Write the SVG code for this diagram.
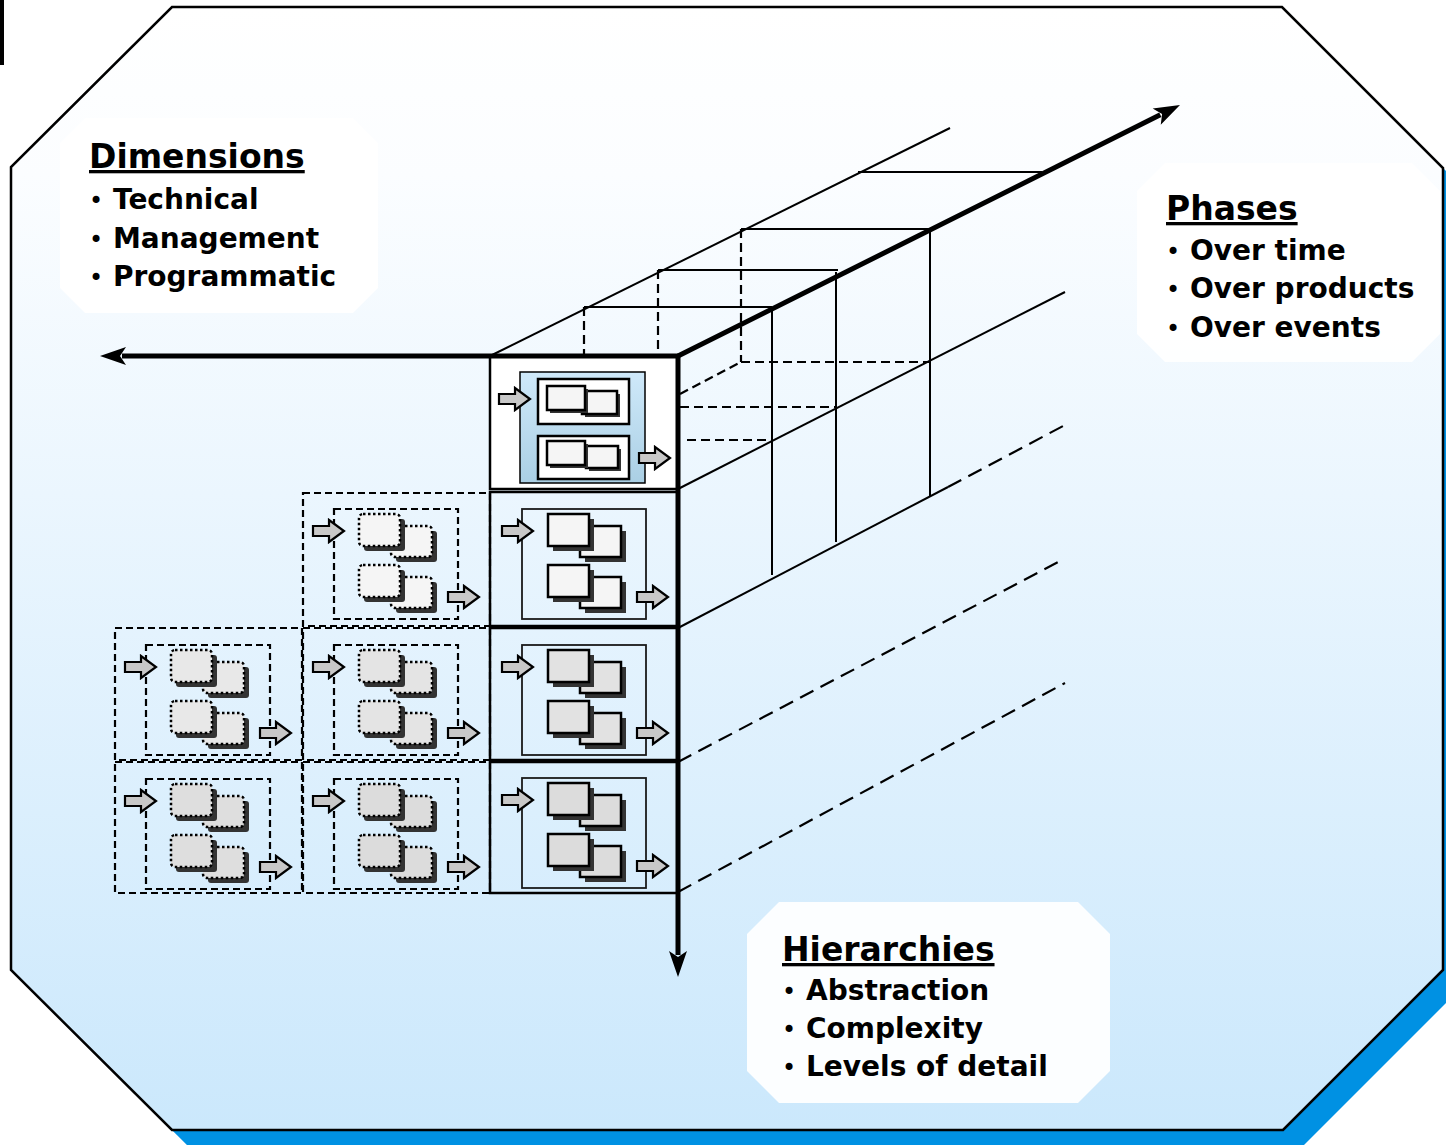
<svg xmlns="http://www.w3.org/2000/svg" xmlns:xlink="http://www.w3.org/1999/xlink" width="1446" height="1145" viewBox="0 0 1446 1145">
<style>
.txt{font-family:"DejaVu Sans","Verdana",sans-serif;font-weight:bold;fill:#000}
.ttl{font-size:33px;text-decoration:underline}
.itm{font-size:28px}
.bul{font-weight:normal;font-size:24px}
.blk{fill:#C8C8C8;stroke:#000;stroke-width:2.2;stroke-linejoin:miter}
.sh{fill:#333}
.sr{stroke:#000;stroke-width:2.5}
.dr{stroke:#000;stroke-width:2.5;stroke-dasharray:2.5 2.5}
.box{fill:none;stroke:#000;stroke-width:2.5}
.dbox{fill:none;stroke:#000;stroke-width:2.2;stroke-dasharray:7 4}
.inner{fill:none;stroke:#1a1a1a;stroke-width:1.8}
.dinner{fill:none;stroke:#000;stroke-width:2.2;stroke-dasharray:7 4}
.thin{fill:none;stroke:#000;stroke-width:2}
.dash{fill:none;stroke:#000;stroke-width:2.2;stroke-dasharray:15 8}
.sdash{fill:none;stroke:#000;stroke-width:2.2;stroke-dasharray:9 5}
.axis{fill:none;stroke:#000;stroke-width:5}
.tbox{fill:#fff;fill-opacity:0.93}
</style>
<defs>
<linearGradient id="bg" x1="0" y1="0" x2="0" y2="1">
<stop offset="0" stop-color="#FFFFFF"/>
<stop offset="0.15" stop-color="#FBFDFF"/>
<stop offset="1" stop-color="#CBE8FC"/>
</linearGradient>
<linearGradient id="panel" x1="0" y1="0" x2="0" y2="1">
<stop offset="0" stop-color="#CFE9FA"/>
<stop offset="1" stop-color="#AACFE4"/>
</linearGradient>
<marker id="ah" markerUnits="userSpaceOnUse" markerWidth="40" markerHeight="30" viewBox="-10 -15 40 30" refX="0" refY="0" orient="auto" overflow="visible">
<path d="M22,0 L-4,-9 L2,0 L-4,9 Z" fill="#000"/>
</marker>
<path id="blkArrow" class="blk" d="M0,-5 H16 V-11 L31,0 L16,11 V5 H0 Z"/>
<g id="pairS">
<rect class="sh" x="37" y="17" width="41" height="31"/>
<rect class="sr" x="32" y="12" width="41" height="31"/>
<rect class="sh" x="5" y="5" width="41" height="32"/>
<rect class="sr" x="0" y="0" width="41" height="32"/>
</g>
<g id="pairD">
<rect class="sh" x="37" y="17" width="41" height="31" rx="3"/>
<rect class="dr" x="32" y="12" width="41" height="31" rx="4"/>
<rect class="sh" x="5" y="5" width="41" height="32" rx="3"/>
<rect class="dr" x="0" y="0" width="41" height="32" rx="4"/>
</g>
<g id="cellS">
<rect class="inner" x="32" y="17" width="124" height="110"/>
<use href="#blkArrow" x="12" y="39"/>
<use href="#blkArrow" x="147" y="105"/>
<use href="#pairS" x="58" y="22"/>
<use href="#pairS" x="58" y="73"/>
</g>
<g id="cellD">
<rect class="dinner" x="32" y="17" width="124" height="110"/>
<use href="#blkArrow" x="11" y="39"/>
<use href="#blkArrow" x="146" y="105"/>
<use href="#pairD" x="57" y="22"/>
<use href="#pairD" x="57" y="73"/>
</g>
</defs>

<g id="background">
<rect x="0" y="0" width="4" height="65" fill="#000"/>
<polygon points="190,25 1300,25 1461,186 1461,988 1301,1148 190,1148 29,988 29,185" fill="#0091E3"/>
<polygon points="172,7 1282,7 1443,168 1443,970 1283,1130 172,1130 11,970 11,167" fill="url(#bg)" stroke="#000" stroke-width="2.5"/>
</g>

<g id="label-dimensions">
<polygon class="tbox" points="85,118 353,118 378,143 378,288 353,313 85,313 60,288 60,143"/>
<text class="txt ttl" x="89" y="168">Dimensions</text>
<text class="txt itm" y="209"><tspan class="bul" x="89">•</tspan><tspan x="113">Technical</tspan></text>
<text class="txt itm" y="248"><tspan class="bul" x="89">•</tspan><tspan x="113">Management</tspan></text>
<text class="txt itm" y="286"><tspan class="bul" x="89">•</tspan><tspan x="113">Programmatic</tspan></text>
</g>

<g id="label-phases">
<polygon class="tbox" points="1165,163 1412,163 1440,191 1440,334 1412,362 1165,362 1137,334 1137,191"/>
<text class="txt ttl" x="1166" y="220">Phases</text>
<text class="txt itm" y="260"><tspan class="bul" x="1166">•</tspan><tspan x="1190">Over time</tspan></text>
<text class="txt itm" y="298"><tspan class="bul" x="1166">•</tspan><tspan x="1190">Over products</tspan></text>
<text class="txt itm" y="337"><tspan class="bul" x="1166">•</tspan><tspan x="1190">Over events</tspan></text>
</g>

<g id="label-hierarchies">
<polygon class="tbox" points="779,902 1078,902 1110,934 1110,1071 1078,1103 779,1103 747,1071 747,934"/>
<text class="txt ttl" x="782" y="961">Hierarchies</text>
<text class="txt itm" y="1000"><tspan class="bul" x="782">•</tspan><tspan x="806">Abstraction</tspan></text>
<text class="txt itm" y="1038"><tspan class="bul" x="782">•</tspan><tspan x="806">Complexity</tspan></text>
<text class="txt itm" y="1076"><tspan class="bul" x="782">•</tspan><tspan x="806">Levels of detail</tspan></text>
</g>

<g id="dashed-cells">
<g id="cell-r2-c2">
<rect class="dbox" x="303" y="493" width="187" height="133"/>
<use href="#cellD" x="302" y="492" fill="#F5F5F5"/>
</g>
<g id="cell-r3-c1">
<rect class="dbox" x="115" y="628" width="187" height="132"/>
<use href="#cellD" x="114" y="628" fill="#E8E8E8"/>
</g>
<g id="cell-r3-c2">
<rect class="dbox" x="303" y="628" width="187" height="132"/>
<use href="#cellD" x="302" y="628" fill="#E4E4E4"/>
</g>
<g id="cell-r4-c1">
<rect class="dbox" x="115" y="762" width="187" height="131"/>
<use href="#cellD" x="114" y="762" fill="#DEDEDE"/>
</g>
<g id="cell-r4-c2">
<rect class="dbox" x="303" y="762" width="187" height="131"/>
<use href="#cellD" x="302" y="762" fill="#DCDCDC"/>
</g>
</g>

<g id="top-cell">
<rect x="490" y="356" width="188" height="133" fill="#fff" stroke="#000" stroke-width="2.5"/>
<rect x="520" y="372" width="125" height="111" fill="url(#panel)" stroke="#000" stroke-width="1.5"/>
<rect x="538" y="379" width="91" height="45" fill="#fff" stroke="#000" stroke-width="2.5"/>
<rect x="538" y="436" width="91" height="43" fill="#fff" stroke="#000" stroke-width="2.5"/>
<g fill="#F5F5F5">
<rect class="sh" x="585" y="394" width="35" height="23"/>
<rect class="sr" x="582" y="391" width="35" height="23"/>
<rect class="sh" x="550" y="389" width="38" height="24"/>
<rect class="sr" x="547" y="386" width="38" height="24"/>
<rect class="sh" x="589" y="449" width="32" height="22"/>
<rect class="sr" x="586" y="446" width="32" height="22"/>
<rect class="sh" x="550" y="444" width="38" height="24"/>
<rect class="sr" x="547" y="441" width="38" height="24"/>
</g>
<use href="#blkArrow" x="499" y="399"/>
<use href="#blkArrow" x="639" y="458"/>
</g>

<g id="cell-r2">
<rect class="box" x="490" y="492" width="188" height="134"/>
<use href="#cellS" x="490" y="492" fill="#F5F5F5"/>
</g>
<g id="cell-r3">
<rect class="box" x="490" y="628" width="188" height="132"/>
<use href="#cellS" x="490" y="628" fill="#E2E2E2"/>
</g>
<g id="cell-r4">
<rect class="box" x="490" y="762" width="188" height="131"/>
<use href="#cellS" x="490" y="761" fill="#DCDCDC"/>
</g>

<g id="connectors">
<line class="thin" x1="490" y1="356" x2="950" y2="128"/>
<line class="thin" x1="584" y1="307" x2="772" y2="307"/>
<line class="thin" x1="658" y1="270" x2="838" y2="270"/>
<line class="thin" x1="741" y1="229" x2="930" y2="229"/>
<line class="thin" x1="858" y1="172" x2="1042" y2="172"/>
<line class="thin" x1="772" y1="307" x2="772" y2="575"/>
<line class="thin" x1="836" y1="272" x2="836" y2="542"/>
<line class="thin" x1="930" y1="231" x2="930" y2="496"/>
<line class="thin" x1="678" y1="489" x2="1065" y2="292"/>
<line class="thin" x1="678" y1="628" x2="948" y2="487"/>
<line class="dash" x1="948" y1="487" x2="1065" y2="425"/>
<line class="dash" x1="678" y1="762" x2="1062" y2="560"/>
<line class="dash" x1="678" y1="892" x2="1065" y2="683"/>
<line class="sdash" x1="584" y1="307" x2="584" y2="356"/>
<line class="sdash" x1="658" y1="270" x2="658" y2="356"/>
<line class="sdash" x1="741" y1="229" x2="741" y2="362"/>
<line class="sdash" x1="741" y1="362" x2="930" y2="362"/>
<line class="sdash" x1="680" y1="407" x2="836" y2="407"/>
<line class="sdash" x1="687" y1="440" x2="772" y2="440"/>
<line class="sdash" x1="680" y1="394" x2="741" y2="362"/>
<line class="axis" x1="678" y1="356" x2="122" y2="356" stroke-width="4" marker-end="url(#ah)"/>
<line class="axis" x1="678" y1="356" x2="1160.3" y2="114.8" marker-end="url(#ah)"/>
<line class="axis" x1="678" y1="354" x2="678" y2="955" marker-end="url(#ah)"/>
</g>
</svg>
